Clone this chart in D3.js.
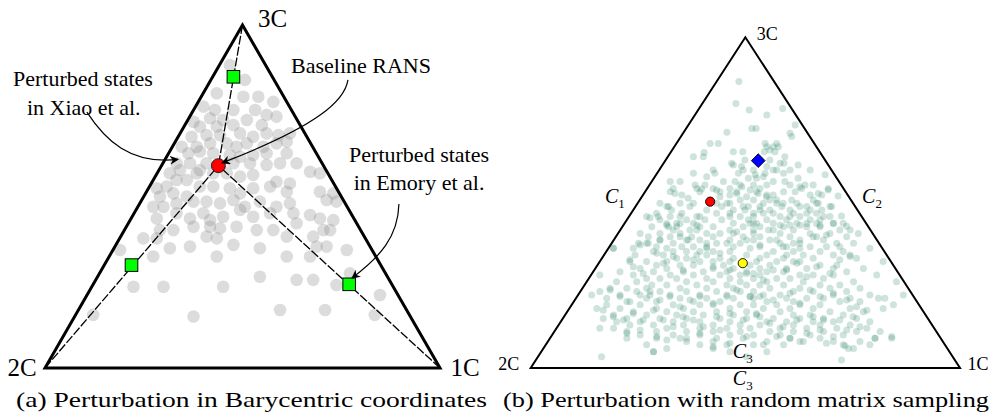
<!DOCTYPE html>
<html>
<head>
<meta charset="utf-8">
<script src="https://cdn.jsdelivr.net/npm/d3@7"></script>
<style>
  body { margin: 0; background: #fff; }
</style>
</head>
<body>
<div id="ternary"></div>
<script>
// ternary plane coordinates, in percent: u along the 2C-1C base, v = height towards 3C
var vertices = [
  {name: "2C", u: 0, v: 0},
  {name: "1C", u: 100, v: 0},
  {name: "3C", u: 50, v: 100}
];

// (a) perturbed states of Xiao et al.
var xiaoStates = [
[46.8,88.3],[50.6,84.0],[43.5,80.1],[50.2,79.1],[54.0,79.1],[57.8,77.6],[40.1,76.2],[43.0,75.2],[47.7,75.2],[53.2,75.2],
[56.1,73.8],[58.6,73.3],[37.6,71.8],[41.8,72.8],[45.1,72.3],[39.2,70.4],[43.5,70.4],[47.7,70.8],[51.1,72.3],[54.9,70.8],
[40.9,67.9],[44.3,67.9],[49.4,68.4],[52.7,67.4],[56.1,68.4],[59.1,67.9],[62.0,68.4],[37.1,67.4],[38.4,64.5],[41.8,65.5],
[46.0,65.5],[48.5,64.5],[51.1,65.5],[55.3,64.5],[58.6,65.5],[61.2,66.0],[34.6,64.5],[36.3,62.6],[39.2,63.1],[42.6,62.6],
[46.8,62.1],[49.4,61.6],[52.7,62.1],[56.1,62.6],[61.2,62.6],[33.3,59.7],[31.6,56.8],[34.2,57.7],[36.7,59.7],[38.4,56.8],
[40.9,59.7],[47.7,59.7],[51.9,59.7],[56.1,59.2],[59.5,59.7],[63.7,59.7],[67.1,57.2],[69.6,56.8],[28.3,52.4],[30.8,52.9],
[33.3,54.8],[35.9,54.8],[39.2,57.7],[42.6,56.8],[46.0,56.8],[49.4,55.8],[52.7,56.3],[58.6,54.3],[62.0,53.8],[29.1,50.0],
[32.5,50.9],[35.9,50.0],[39.2,52.9],[42.6,52.9],[46.8,52.4],[49.4,50.9],[52.7,52.4],[57.0,52.9],[61.2,51.4],[69.6,51.4],
[73.0,50.9],[27.4,47.0],[30.0,47.0],[33.3,48.0],[37.6,48.5],[40.9,48.5],[44.3,48.0],[47.7,49.0],[50.6,47.0],[54.4,48.5],
[58.6,47.0],[62.0,48.0],[71.3,49.0],[73.8,48.5],[28.3,43.6],[33.3,45.1],[36.7,43.6],[40.1,45.1],[41.8,43.1],[45.1,44.1],
[49.4,46.1],[52.7,44.1],[57.0,45.1],[62.9,45.1],[67.1,44.6],[69.6,43.6],[73.0,43.1],[29.1,40.2],[32.5,40.2],[37.6,41.2],
[41.8,41.2],[44.3,40.7],[48.5,41.2],[53.6,40.2],[57.8,40.2],[63.7,42.2],[70.5,40.2],[72.2,40.2],[24.9,37.8],[28.3,37.8],
[31.6,34.9],[36.7,35.4],[40.9,38.3],[43.5,37.8],[47.7,35.9],[54.4,34.9],[61.2,38.3],[67.9,38.3],[68.8,35.4],[71.3,35.4],
[76.4,34.4],[19.0,34.4],[27.4,32.5],[43.5,32.5],[61.2,32.5],[67.1,32.5],[54.4,26.6],[63.7,25.7],[67.9,25.7],[77.2,27.6],
[84.8,21.3],[22.4,23.7],[30.0,23.7],[45.1,23.7],[73.8,24.2],[12.2,15.5],[37.6,15.0],[59.5,16.9],[70.9,16.9],[83.5,15.5]
];
var baselineA = [43.9, 59.0];
var emoryStates = [[47.7, 84.9], [21.9, 30.0], [77.0, 24.4]];

// (b) random matrix samples, grouped by row height v: [v, [u, ...]]
var sampleRows = [
[86.6,[48.5]],[80.0,[47.8]],[78.5,[58.7]],[78.0,[50.9]],[76.5,[55.0]],[73.5,[61.6]],[72.4,[52.5,51.5]],
[71.0,[60.4]],[70.0,[60.8]],[67.9,[41.8,43.7,54.6,57.3]],[66.9,[55.0,56.5]],[65.4,[47.2,49.4,54.4,56.9]],
[63.9,[37.9,40.2,59.2]],[62.9,[49.9,55.7]],[61.9,[46.8,58.1,59.0]],[60.9,[49.1,55.0]],[59.9,[51.9,57.3,60.4,65.1]],
[58.9,[37.9,42.9,48.4,54.6,58.9]],[58.4,[68.6]],[57.4,[50.7,52.6,62.3]],[56.4,[32.5,34.8,44.9,47.6,56.5,59.2]],
[55.3,[38.3,40.6,48.8,51.9,55.0,60.4,63.9,65.8]],[54.3,[33.2,42.5,46.4,53.4,63.1,69.3]],
[53.3,[32.5,39.4,44.1,48.0,52.6,58.9,61.6]],[52.3,[35.2,46.4,55.0,56.5,65.1,67.8]],
[50.8,[48.8,51.9,55.7,60.8,65.8]],[49.8,[30.1,34.8,37.9,43.3,46.4,54.2,57.3,67.0]],
[48.8,[31.7,37.1,44.5,50.7,53.4,58.5,62.7,70.1]],[47.8,[32.8,41.0,47.2,49.9,55.7,60.4,65.1,67.8]],
[46.8,[29.3,35.2,43.3,51.9,54.2,56.5,61.2,66.6]],[45.8,[27.0,32.5,38.7,46.4,48.8,58.1,62.7,69.7]],
[44.8,[30.1,36.3,40.6,44.5,50.7,55.0,59.6,65.1,67.4]],[43.8,[34.0,37.9,47.2,52.6,56.5,62.0,70.5,72.8]],
[42.7,[28.2,32.1,39.4,42.5,49.5,58.9,64.3,67.4]],[41.7,[33.2,37.1,46.4,51.9,55.4,61.2,72.0,74.4]],
[40.7,[25.5,30.1,34.8,41.0,44.1,47.2,58.1,65.1,69.7,76.3]],[39.7,[27.4,32.5,37.5,42.5,49.5,53.4,60.4,66.6,73.6]],
[38.7,[30.1,36.3,39.4,46.4,51.9,55.7,62.7,68.2]],[37.7,[25.1,27.0,33.2,41.0,43.3,48.8,58.1,61.2,71.3,75.2]],
[36.7,[29.3,35.2,37.9,47.2,53.4,59.6,65.1,68.9,72.0]],[36.2,[19.3,23.9,31.7,41.0,51.1,62.7,79.0]],
[35.2,[28.6,33.2,36.3,42.5,46.4,56.5,61.2,67.4,72.8]],[34.2,[24.3,30.9,38.7,41.0,50.3,55.0,59.6,63.5,70.5,74.4]],
[33.2,[34.0,36.3,44.1,47.2,53.4,58.9,65.8,75.9]],[32.2,[23.1,27.0,31.7,39.4,42.5,46.4,52.6,57.3,61.2,62.7,82.1]],
[31.1,[29.3,34.8,37.9,44.9,51.1,55.7,67.4,71.3]],[30.1,[25.5,31.7,42.5,47.2,53.4,59.6,64.3,70.5,77.5]],
[29.1,[20.8,28.6,35.6,40.2,45.7,50.3,55.0,58.9,73.6]],[28.1,[16.1,23.9,32.5,37.9,44.1,48.8,53.4,62.7,65.8,70.5,80.6]],
[27.1,[27.0,30.1,34.0,41.0,46.4,51.9,57.3,60.4,68.2]],[26.1,[20.0,24.7,36.3,42.5,48.8,55.0,63.5,75.2,85.2]],
[25.1,[28.2,31.7,38.7,45.7,50.3,53.4,58.9,67.4,72.0]],[24.1,[18.5,22.4,27.0,34.8,41.0,47.2,55.7,62.7,69.7,76.7]],
[23.1,[24.7,30.1,36.3,43.3,48.8,51.9,61.2,65.8,73.6]],[22.1,[14.2,20.8,27.8,32.5,39.4,45.7,54.2,58.1,70.5,79.0,86.8]],
[21.1,[17.7,27.0,34.8,41.0,47.2,51.9,59.6,64.3,68.2,74.4,81.0,82.5]],[20.1,[22.4,29.3,37.9,44.1,55.0,61.2,72.0,76.7]],
[19.1,[17.7,25.5,33.2,39.4,42.5,48.8,51.9,57.3,62.7,67.4,84.5]],[18.0,[15.4,20.8,29.3,35.6,46.4,54.2,60.4,65.8,74.4,82.1]],
[17.0,[23.9,31.7,37.9,43.3,50.3,58.1,69.7,77.5]],[16.0,[19.3,27.0,34.0,40.2,47.2,52.6,61.2,65.1,72.8]],
[15.0,[16.9,22.4,30.1,36.3,44.1,50.3,56.5,62.7,68.2,75.9]],[14.0,[20.0,25.5,33.2,39.4,46.4,55.0,59.6,65.8,70.5,79.0]],
[13.0,[23.1,28.6,35.6,42.5,48.8,53.4,61.2,67.4,74.4]],[12.0,[16.1,19.3,31.7,39.4,45.7,51.1,58.1,64.3,71.3,78.3]],
[11.0,[22.4,29.3,36.3,42.5,48.8,55.7,61.2,68.2,75.9,81.4]],[10.0,[25.5,33.2,39.4,46.4,51.9,58.1,65.1,72.8]],
[9.0,[22.4,29.3,34.8,43.3,49.5,60.4,67.4,80.2,84.1]],[8.0,[36.3,42.5,55.0,62.7,70.5,76.7]],
[7.0,[27.0,39.4,45.7,51.9,58.9,72.8]],[5.9,[31.7,42.5,74.0,75.2]],[4.9,[28.6,46.4,55.0]],[3.4,[16.5,50.3]],[2.4,[72.4]]
];
// (b) further samples read from the denser parts of the cloud: [u, v]
var extraSamples = [
[19.2,36.2],[25.5,37.2],[27.4,37.7],[30.1,38.7],[31.7,43.7],[34.0,42.7],[34.8,39.7],[36.7,38.7],[38.7,41.7],[41.0,36.7],
[44.1,34.7],[45.7,37.7],[48.0,41.2],[51.9,40.7],[23.1,32.7],[23.9,30.6],[26.2,28.6],[29.4,34.7],[30.9,31.7],[33.2,33.7],
[35.5,29.6],[37.9,32.7],[39.4,35.2],[42.5,30.6],[46.4,29.6],[50.3,28.6],[16.1,23.1],[18.5,23.6],[20.8,21.6],[23.1,20.0],
[25.5,22.1],[27.8,23.1],[30.1,20.6],[32.4,21.6],[34.8,18.5],[37.1,20.6],[39.4,21.6],[42.5,19.6],[45.7,21.6],[48.0,23.6],
[51.1,21.6],[16.9,17.5],[19.2,15.5],[21.6,14.5],[23.9,16.5],[26.2,14.5],[28.6,17.5],[30.9,14.5],[33.2,12.5],[35.5,15.5],
[37.9,14.5],[40.2,12.5],[43.3,15.5],[46.4,16.5],[49.5,14.5],[52.6,16.5],[22.4,10.5],[25.5,11.5],[29.4,9.5],[31.7,8.5],
[36.3,9.0],[39.4,10.5],[44.1,11.5],[46.4,7.5],[50.3,9.5],[28.6,4.9],[42.5,6.4],
[51.1,43.7],[53.4,42.7],[56.5,41.7],[60.4,43.2],[64.3,43.7],[67.4,43.2],[50.3,38.7],[53.4,37.2],[57.3,38.7],[58.8,36.7],
[62.7,37.7],[65.8,39.7],[68.9,40.2],[51.9,28.6],[54.2,26.6],[56.5,29.6],[59.6,29.6],[62.0,31.7],[64.3,27.6],[66.6,30.6],
[69.7,28.6],[72.0,32.7],[74.4,33.7],[51.1,21.6],[53.4,21.6],[56.5,20.6],[60.4,22.6],[62.7,19.6],[65.1,23.6],[67.4,21.6],
[70.5,22.6],[73.6,20.6],[75.9,18.5],[78.3,17.5],[53.4,15.5],[55.7,13.5],[58.8,12.5],[62.0,14.5],[65.8,15.5],[68.2,14.5],
[72.0,14.5],[75.1,15.5],[57.3,9.5],[60.4,9.0],[64.3,10.5],[67.4,11.5],[70.5,9.5],[73.6,11.5],[76.7,12.5],[54.2,7.0],
[63.5,8.0],[68.9,7.5],[73.2,6.7],[79.0,7.0],[84.1,9.5],[80.2,9.0],
[45.7,71.3],[40.4,65.2],[42.5,59.9],[41.0,57.8],[47.2,61.4],[38.7,54.3],[39.8,54.1],[43.3,53.8],[33.6,52.8],[36.7,51.3],
[44.1,51.8],[45.7,49.8],[48.0,52.8],[50.3,51.8],[27.8,45.4],[29.7,45.8],[32.1,48.8],[34.8,45.8],[39.4,45.8],[46.4,46.8],
[49.5,48.8],[51.9,45.8],[31.7,43.2],[34.8,43.7],[38.7,43.2],
[57.7,66.9],[55.7,65.9],[62.3,61.4],[71.6,52.0],[56.5,59.9],[54.2,57.8],[52.3,58.4],[49.5,59.9],[62.7,54.8],[67.0,52.8],
[69.3,53.8],[49.2,54.8],[51.1,53.8],[53.0,52.8],[54.9,51.8],[57.3,50.8],[58.8,49.8],[62.0,49.8],[64.3,48.8],[66.6,49.8],
[69.7,48.8],[72.4,46.0],[73.6,42.9],[53.4,47.8],[60.4,45.8],[64.3,46.8],[68.2,45.8],[70.5,43.7],[51.9,43.7],[58.1,43.2],
[62.7,43.2],[66.6,43.7]
];
var baselineB = [41.8, 50.3];
var diamondB = [53.0, 62.7];
var meanB = [49.4, 31.7];

var edgeLabels = [
  {sub: "1", u: 19.6, v: 49.9},
  {sub: "2", u: 79.5, v: 49.9},
  {sub: "3", u: 49.4, v: 3.0},
  {sub: "3", u: 49.4, v: -5.1}
];

var notes = [
  {text: "Perturbed states", u: 9.6, v: 82.2},
  {text: "in Xiao et al.", u: 9.8, v: 73.8},
  {text: "Baseline RANS", u: 80.0, v: 86.0},
  {text: "Perturbed states", u: 94.7, v: 60.1},
  {text: "in Emory et al.", u: 94.7, v: 51.9}
];
// arrows: start, two control points, tip
var arrows = [
  [[10.6, 74.6], [15.2, 66.5], [21.5, 59.2], [33.7, 60.8]],
  [[76.7, 84.0], [75.9, 78.1], [69.6, 70.8], [44.8, 59.8]],
  [[89.6, 47.8], [89.4, 38.2], [84.8, 32.4], [77.7, 26.2]]
];

var captions = [
  "(a) Perturbation in Barycentric coordinates",
  "(b) Perturbation with random matrix sampling"
];

drawTernary();

function drawTernary() {

var W = 991, H = 414;
var serif = "'Liberation Serif', 'Times New Roman', Times, serif";
var svg = d3.select("#ternary").append("svg")
    .attr("width", W).attr("height", H)
    .attr("font-family", serif);

var xL = d3.scaleLinear().domain([0, 100]).range([45, 440]),
    yL = d3.scaleLinear().domain([0, 100]).range([368, 25]);
var xR = d3.scaleLinear().domain([0, 100]).range([530.7, 960]),
    yR = d3.scaleLinear().domain([0, 100]).range([368, 37.3]);

var defs = svg.append("defs");
defs.append("marker")
    .attr("id", "head")
    .attr("viewBox", "0 0 10 10")
    .attr("refX", 9).attr("refY", 5)
    .attr("markerWidth", 9).attr("markerHeight", 9)
    .attr("markerUnits", "userSpaceOnUse")
    .attr("orient", "auto")
  .append("path")
    .attr("d", "M0,0 L10,5 L0,10 L3,5 Z")
    .attr("fill", "#000");

// ---- panel (a)
var a = svg.append("g");

a.selectAll("circle.xiao")
    .data(xiaoStates)
  .enter().append("circle")
    .attr("class", "xiao")
    .attr("cx", function(d) { return xL(d[0]); })
    .attr("cy", function(d) { return yL(d[1]); })
    .attr("r", 6.3)
    .attr("fill", "#8a8a8a")
    .attr("fill-opacity", 0.3);

var lineL = d3.line()
    .x(function(d) { return xL(d.u); })
    .y(function(d) { return yL(d.v); })
    .curve(d3.curveLinearClosed);

a.append("path")
    .datum(vertices)
    .attr("d", lineL)
    .attr("fill", "none")
    .attr("stroke", "#000")
    .attr("stroke-width", 3)
    .attr("stroke-linejoin", "miter");

a.selectAll("line.dash")
    .data(vertices)
  .enter().append("line")
    .attr("class", "dash")
    .attr("x1", function(d) { return xL(d.u); })
    .attr("y1", function(d) { return yL(d.v); })
    .attr("x2", xL(baselineA[0]))
    .attr("y2", yL(baselineA[1]))
    .attr("stroke", "#000")
    .attr("stroke-width", 1.3)
    .attr("stroke-dasharray", "9,2");

a.selectAll("rect.emory")
    .data(emoryStates)
  .enter().append("rect")
    .attr("class", "emory")
    .attr("x", function(d) { return xL(d[0]) - 6.3; })
    .attr("y", function(d) { return yL(d[1]) - 6.3; })
    .attr("width", 12.6).attr("height", 12.6)
    .attr("fill", "#00ff00")
    .attr("stroke", "#000")
    .attr("stroke-width", 1);

a.append("circle")
    .attr("cx", xL(baselineA[0]))
    .attr("cy", yL(baselineA[1]))
    .attr("r", 7)
    .attr("fill", "#ff0000")
    .attr("stroke", "#000")
    .attr("stroke-width", 0.8);

var curve = function(p) {
  return "M" + xL(p[0][0]) + "," + yL(p[0][1]) +
         "C" + xL(p[1][0]) + "," + yL(p[1][1]) + " " +
               xL(p[2][0]) + "," + yL(p[2][1]) + " " +
               xL(p[3][0]) + "," + yL(p[3][1]);
};
a.selectAll("path.arrow")
    .data(arrows)
  .enter().append("path")
    .attr("class", "arrow")
    .attr("d", curve)
    .attr("fill", "none")
    .attr("stroke", "#000")
    .attr("stroke-width", 1.2)
    .attr("marker-end", "url(#head)");

a.selectAll("text.note")
    .data(notes)
  .enter().append("text")
    .attr("class", "note")
    .attr("x", function(d) { return xL(d.u); })
    .attr("y", function(d) { return yL(d.v); })
    .attr("text-anchor", "middle")
    .attr("font-size", 22)
    .text(function(d) { return d.text; });

var offL = {"2C": [-23, 8], "1C": [25, 8], "3C": [30, 2]};
a.selectAll("text.vtx")
    .data(vertices)
  .enter().append("text")
    .attr("class", "vtx")
    .attr("x", function(d) { return xL(d.u) + offL[d.name][0]; })
    .attr("y", function(d) { return yL(d.v) + offL[d.name][1]; })
    .attr("text-anchor", "middle")
    .attr("font-size", 25)
    .text(function(d) { return d.name; });

// ---- panel (b)
var b = svg.append("g");

var samples = sampleRows.flatMap(function(r) {
  return r[1].map(function(u) { return [u, r[0]]; });
}).concat(extraSamples);

b.selectAll("circle.sample")
    .data(samples)
  .enter().append("circle")
    .attr("class", "sample")
    .attr("cx", function(d) { return xR(d[0]); })
    .attr("cy", function(d) { return yR(d[1]); })
    .attr("r", 3.5)
    .attr("fill", "#2a8462")
    .attr("fill-opacity", 0.23);

var lineR = d3.line()
    .x(function(d) { return xR(d.u); })
    .y(function(d) { return yR(d.v); })
    .curve(d3.curveLinearClosed);

b.append("path")
    .datum(vertices)
    .attr("d", lineR)
    .attr("fill", "none")
    .attr("stroke", "#000")
    .attr("stroke-width", 2);

b.append("circle")
    .attr("cx", xR(baselineB[0])).attr("cy", yR(baselineB[1]))
    .attr("r", 4.6)
    .attr("fill", "#ff0000").attr("stroke", "#000").attr("stroke-width", 0.9);

b.append("circle")
    .attr("cx", xR(meanB[0])).attr("cy", yR(meanB[1]))
    .attr("r", 4.6)
    .attr("fill", "#ffff00").attr("stroke", "#000").attr("stroke-width", 0.9);

b.append("path")
    .attr("transform", "translate(" + xR(diamondB[0]) + "," + yR(diamondB[1]) + ")")
    .attr("d", d3.symbol().type(d3.symbolDiamond2).size(120))
    .attr("fill", "#0000ff").attr("stroke", "#000").attr("stroke-width", 0.9);

var offR = {"2C": [-22, -4], "1C": [18, -4], "3C": [22, -3]};
b.selectAll("text.vtx")
    .data(vertices)
  .enter().append("text")
    .attr("class", "vtx")
    .attr("x", function(d) { return xR(d.u) + offR[d.name][0]; })
    .attr("y", function(d) { return yR(d.v) + offR[d.name][1]; })
    .attr("text-anchor", "middle")
    .attr("dominant-baseline", "central")
    .attr("font-size", 18)
    .text(function(d) { return d.name; });

var el = b.selectAll("text.edge")
    .data(edgeLabels)
  .enter().append("text")
    .attr("class", "edge")
    .attr("x", function(d) { return xR(d.u); })
    .attr("y", function(d) { return yR(d.v); })
    .attr("text-anchor", "middle")
    .attr("font-size", 20);
el.append("tspan").attr("font-style", "italic").text("C");
el.append("tspan").attr("dy", 5).attr("font-size", 13).text(function(d) { return d.sub; });

// ---- captions
svg.selectAll("text.cap")
    .data(captions)
  .enter().append("text")
    .attr("class", "cap")
    .attr("x", function(d, i) { return i === 0 ? 16 : 503; })
    .attr("y", 407)
    .attr("textLength", function(d, i) { return i === 0 ? 471 : 486; })
    .attr("lengthAdjust", "spacingAndGlyphs")
    .attr("font-size", 22)
    .text(function(d) { return d; });

}
</script>
</body>
</html>
